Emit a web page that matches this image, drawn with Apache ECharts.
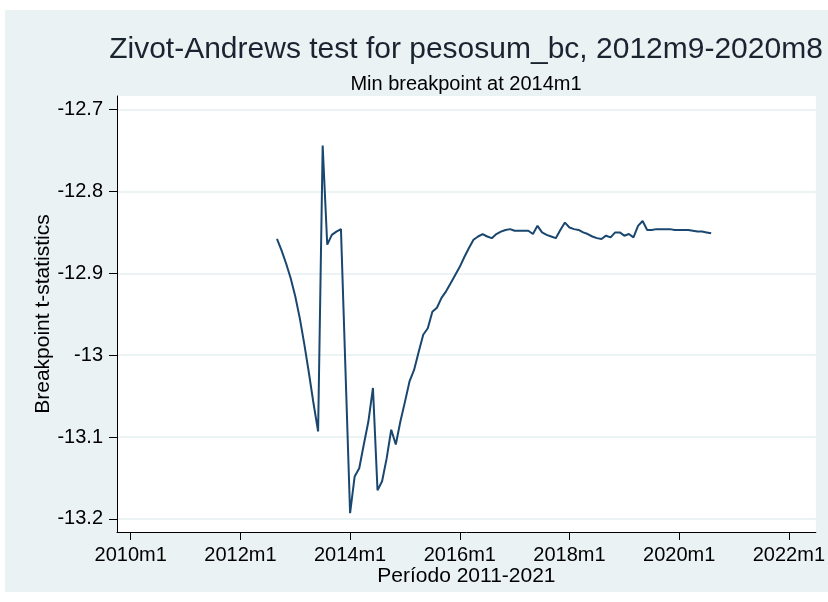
<!DOCTYPE html>
<html>
<head>
<meta charset="utf-8">
<script src="https://cdn.jsdelivr.net/npm/echarts@6/dist/echarts.min.js"></script>
<style>
  html, body { margin: 0; padding: 0; background: #ffffff; }
  #frame { position: absolute; left: 5px; top: 10px; width: 823px; height: 582px; background: #EAF2F3; }
  #chart { position: absolute; left: 0; top: 0; width: 828px; height: 602px; }
</style>
</head>
<body>
<div id="frame"></div>
<div id="chart"></div>
<script>
// Zivot-Andrews breakpoint t-statistics, monthly, 2012m9 .. 2020m8
const firstPeriod = '2012m9';
const tStats = [
  -12.858, -12.872, -12.888, -12.906,                                   // 2012m9-m12
  -12.928, -12.955, -12.987, -13.022, -13.059, -13.093,                 // 2013m1-m6
  -12.744, -12.865, -12.853, -12.849, -12.846, -13.020,                 // 2013m7-m12
  -13.193, -13.148, -13.138, -13.109, -13.081, -13.040,                 // 2014m1-m6
  -13.165, -13.154, -13.126, -13.091, -13.109, -13.081,                 // 2014m7-m12
  -13.057, -13.032, -13.018, -12.996, -12.975, -12.967,                 // 2015m1-m6
  -12.947, -12.942, -12.930, -12.922, -12.912, -12.902,                 // 2015m7-m12
  -12.892, -12.880, -12.869, -12.859, -12.855, -12.852,                 // 2016m1-m6
  -12.855, -12.857, -12.852, -12.849, -12.847, -12.846,                 // 2016m7-m12
  -12.848, -12.848, -12.848, -12.848, -12.852, -12.842,                 // 2017m1-m6
  -12.850, -12.853, -12.855, -12.857, -12.847, -12.838,                 // 2017m7-m12
  -12.844, -12.846, -12.847, -12.850, -12.852, -12.855,                 // 2018m1-m6
  -12.857, -12.858, -12.854, -12.856, -12.850, -12.850,                 // 2018m7-m12
  -12.854, -12.852, -12.856, -12.842, -12.836, -12.847,                 // 2019m1-m6
  -12.847, -12.846, -12.846, -12.846, -12.846, -12.847,                 // 2019m7-m12
  -12.847, -12.847, -12.847, -12.848, -12.849, -12.849,                 // 2020m1-m6
  -12.850, -12.851                                                      // 2020m7-m8
];
const xTickLabels = ['2010m1', '2012m1', '2014m1', '2016m1', '2018m1', '2020m1', '2022m1'];
const yTickValues = [-13.2, -13.1, -13.0, -12.9, -12.8, -12.7];

const titleText = 'Zivot-Andrews test for pesosum_bc, 2012m9-2020m8';
const subtitleText = 'Min breakpoint at 2014m1';
const xTitle = 'Período 2011-2021';
const yTitle = 'Breakpoint t-statistics';

// Stata-style period "YYYYmM" -> months since 2010m1
const BASE_YEAR = 2010;
function periodToIndex(p) {
  const [y, m] = p.split('m').map(Number);
  return (y - BASE_YEAR) * 12 + (m - 1);
}
function indexToPeriod(i) {
  const y = BASE_YEAR + Math.floor(i / 12);
  const m = (i % 12 + 12) % 12 + 1;
  return y + 'm' + m;
}

const start = periodToIndex(firstPeriod);
const lineData = tStats.map((v, k) => [start + k, v]);
const xTickValues = xTickLabels.map(periodToIndex);

const FONT = '"Liberation Sans", Arial, sans-serif';
const chart = echarts.init(document.getElementById('chart'), null, { renderer: 'canvas' });

chart.setOption({
  backgroundColor: 'transparent',
  animation: false,
  textStyle: { fontFamily: FONT },
  grid: {
    left: 117, top: 96, right: 12, bottom: 70,
    show: true, backgroundColor: '#ffffff', borderWidth: 0
  },
  xAxis: {
    type: 'value',
    min: -3, max: 149.9,
    axisLine: { show: true, onZero: false, lineStyle: { color: '#000', width: 1 } },
    axisTick: { show: true, length: 8, customValues: xTickValues, lineStyle: { color: '#000', width: 1 } },
    axisLabel: {
      customValues: xTickValues, margin: 13,
      color: '#000', fontSize: 20, fontFamily: FONT,
      formatter: v => indexToPeriod(v)
    },
    splitLine: { show: false },
    name: xTitle, nameLocation: 'middle', nameGap: 34, nameMoveOverlap: false,
    nameTextStyle: { color: '#000', fontSize: 21, fontFamily: FONT }
  },
  yAxis: {
    type: 'value',
    min: -13.2159, max: -12.6834,
    axisLine: { show: true, onZero: false, lineStyle: { color: '#000', width: 1 } },
    axisTick: { show: true, length: 8, customValues: yTickValues, lineStyle: { color: '#000', width: 1 } },
    axisLabel: {
      customValues: yTickValues, margin: 14,
      color: '#000', fontSize: 20, fontFamily: FONT,
      formatter: v => String(Math.round(v * 10) / 10)
    },
    splitLine: { show: true, lineStyle: { color: '#E6EFF2', width: 1.5 } },
    name: yTitle, nameLocation: 'middle', nameGap: 63, nameMoveOverlap: false,
    nameTextStyle: { color: '#000', fontSize: 21, fontFamily: FONT }
  },
  graphic: [
    {
      type: 'text', x: 466, y: 50, silent: true,
      style: { text: titleText, align: 'center', verticalAlign: 'middle',
               font: '30px ' + FONT, fill: '#1a2430' }
    },
    {
      type: 'text', x: 466, y: 84, silent: true,
      style: { text: subtitleText, align: 'center', verticalAlign: 'middle',
               font: '20px ' + FONT, fill: '#000' }
    }
  ],
  series: [{
    type: 'line',
    data: lineData,
    showSymbol: false,
    lineStyle: { color: '#1A476F', width: 2 },
    itemStyle: { color: '#1A476F' }
  }]
});
</script>
</body>
</html>
